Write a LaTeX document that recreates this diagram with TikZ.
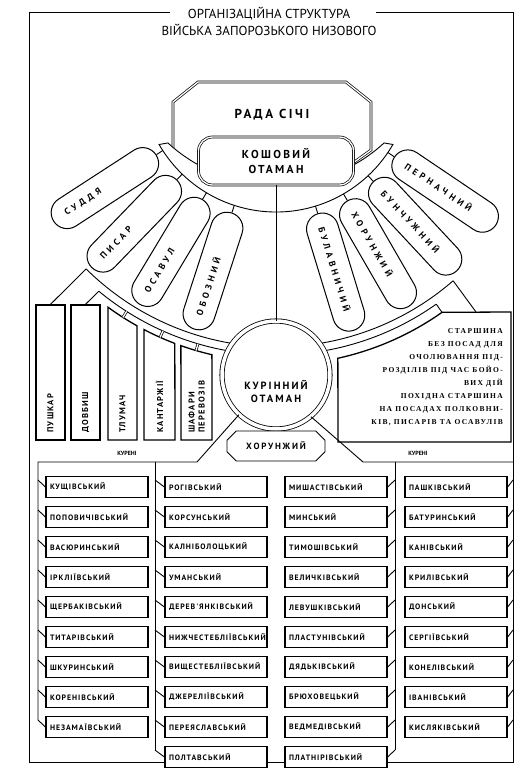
\documentclass[tikz,border=0pt]{standalone}
\usepackage{fontspec}
\setmainfont{PT Sans}
\newfontfamily\leaffont[LetterSpace=40]{PT Sans}
\newfontfamily\headfont[LetterSpace=20]{PT Sans}
\newfontfamily\kurfont[LetterSpace=12]{PT Sans}
\newfontfamily\vfont[LetterSpace=15]{PT Sans}
\newfontfamily\notefont[LetterSpace=18]{Liberation Serif}
\usetikzlibrary{calc, shapes.misc}

\tikzset{
  dbl/.style={draw, double, double distance=1.3pt, line width=0.7pt},
  boxline/.style={draw, line width=1.3pt},
  band/.style={line width=0.9pt},
  leaf/.style={draw, fill=white, line width=1pt, rounded corners=16pt,
    minimum height=32pt, text width=94pt, inner xsep=14pt, inner ysep=0pt,
    align=left, font=\leaffont\bfseries\fontsize{9}{10}\selectfont},
  kurin/.style={boxline, fill=white, minimum height=21pt, text width=94pt,
    inner xsep=4pt, inner ysep=0pt, align=left,
    font=\kurfont\bfseries\fontsize{7.8}{8.5}\selectfont},
  postbox/.style={boxline, fill=white, minimum width=29pt, minimum height=135pt,
    inner sep=0pt},
  vlabel/.style={rotate=90, anchor=west, inner sep=0pt, align=left,
    font=\vfont\bfseries\fontsize{8.5}{10}\selectfont},
}

\begin{document}
\begin{tikzpicture}[x=1pt, y=-1pt]
\useasboundingbox (0,0) rectangle (527,783);

% frame and title
\draw[line width=0.8pt] (170,12) -- (29,12) -- (29,762) -- (513,762) -- (513,12) -- (376,12);
\node[font=\fontsize{13}{14}\selectfont] (title1) at (269,14) {ОРГАНІЗАЦІЙНА СТРУКТУРА};
\node[font=\fontsize{13}{14}\selectfont] (title2) at (269,30) {ВІЙСЬКА ЗАПОРОЗЬКОГО НИЗОВОГО};

% rada sichi
\coordinate (C) at (276,77);
\coordinate (C2) at (276,25);
\draw[dbl, fill=white] (198,82) -- (346,82) -- (371,102) -- (371,150) -- (346,168)
  -- (198,168) -- (173,150) -- (173,102) -- cycle;
\node[font=\headfont\bfseries\fontsize{13}{14}\selectfont] (rada) at (272,115) {РАДА СІЧІ};

% upper band
\draw[band, fill=white] ($(C)+(210:135pt)$) arc[start angle=210, end angle=330, radius=135pt]
  -- ($(C2)+(312.5:160pt)$) arc[start angle=312.5, end angle=227.5, radius=160pt] -- cycle;

\node[dbl, fill=white, rounded corners=14pt, minimum width=155pt, minimum height=48pt,
  align=center, font=\headfont\bfseries\fontsize{11.5}{15}\selectfont] (koshovyi) at (276,161) {КОШОВИЙ\\ОТАМАН};

% lower band
\draw[band] ($(C)+(225.3:270pt)$) coordinate (peakL) arc[start angle=225.3, end angle=262, radius=270pt];
\draw[band] ($(C)+(230.4:278pt)$) coordinate (cornerL) arc[start angle=230.4, end angle=262, radius=278pt];
\draw[band] ($(C)+(278:270pt)$) arc[start angle=278, end angle=311, radius=270pt] coordinate (peakR);
\draw[band] ($(C)+(278:278pt)$) arc[start angle=278, end angle=305.2, radius=278pt] coordinate (cornerR);

% leaves
\node[leaf, rotate=33] (suddia) at ($(C)+(213:204pt)$) {СУДДЯ};
\node[leaf, rotate=46] (pysar) at ($(C)+(226:204pt)$) {ПИСАР};
\node[leaf, rotate=59] (osavul) at ($(C)+(239:204pt)$) {ОСАВУЛ};
\node[leaf, rotate=72] (oboznyi) at ($(C)+(252:204pt)$) {ОБОЗНИЙ};
\node[leaf, rotate=-73] (bulavnychyi) at ($(C)+(287:204pt)$) {БУЛАВНИЧИЙ};
\node[leaf, rotate=-60] (khorunzhyi) at ($(C)+(300:204pt)$) {ХОРУНЖИЙ};
\node[leaf, rotate=-47] (bunchuzhnyi) at ($(C)+(313:204pt)$) {БУНЧУЖНИЙ};
\node[leaf, rotate=-34] (pernachnyi) at ($(C)+(326:204pt)$) {ПЕРНАЧНИЙ};
\foreach \a/\n in {213/suddia, 226/pysar, 239/osavul, 252/oboznyi} {
  \coordinate (u-\n) at ($(C)+(\a:135pt)$);
  \draw[band] (u-\n) -- (\n.east);
}
\foreach \a/\n in {287/bulavnychyi, 300/khorunzhyi, 313/bunchuzhnyi, 326/pernachnyi} {
  \coordinate (u-\n) at ($(C)+(\a:135pt)$);
  \draw[band] (u-\n) -- (\n.west);
}

% service boxes
\node[postbox] (pushkar-box) at (50.5,372.5) {};
\node[postbox] (dovbysh-box) at (85.5,372.5) {};
\draw[boxline, fill=white] (108,440) -- ($(C)+(233.9:285pt)$) arc[start angle=233.9, end angle=240.8, radius=285pt] -- (137,440) -- cycle;
\draw[boxline, fill=white] (144,440) -- ($(C)+(242.4:285pt)$) arc[start angle=242.4, end angle=249.2, radius=285pt] -- (175,440) -- cycle;
\draw[boxline, fill=white] (181,440) -- ($(C)+(250.5:285pt)$) arc[start angle=250.5, end angle=257, radius=285pt] -- (212,440) -- cycle;
\draw[band] (peakL) -- (pushkar-box.north);
\draw[band] (cornerL) -- (dovbysh-box.north);
\foreach \a in {237.5, 246, 253.7}
  \draw[dbl] ($(C)+(\a:278pt)$) -- ($(C)+(\a:285pt)$);
\node[vlabel] (pushkar) at (50.5,433) {ПУШКАР};
\node[vlabel] (dovbysh) at (85.5,433) {ДОВБИШ};
\node[vlabel] (tlumach) at (122.5,433) {ТЛУМАЧ};
\node[vlabel] (kantarzhii) at (159.5,433) {КАНТАРЖІЇ};
\node[vlabel] (shafary) at (196.5,433) {ШАФАРИ\\ПЕРЕВОЗІВ};

% starshyna
\draw[boxline, fill=white] (338,442) -- ($(C)+(282.4:288pt)$) arc[start angle=282.4, end angle=305.2, radius=288pt]
  coordinate (K) -- (511,312) -- (511,442) -- cycle;
\draw[band] (cornerR) -- (K);
\coordinate (top-starshyna) at (476,312);
\draw[band] (peakR) -- (top-starshyna);
\node[anchor=north east, align=right, inner sep=0pt,
  font=\notefont\bfseries\fontsize{7.5}{13.1}\selectfont] (note) at (503,328)
  {СТАРШИНА\\БЕЗ ПОСАД ДЛЯ\\ОЧОЛЮВАННЯ ПІД-\\РОЗДІЛІВ ПІД ЧАС БОЙО-\\ВИХ ДІЙ\\
   ПОХІДНА СТАРШИНА\\НА ПОСАДАХ ПОЛКОВНИ-\\КІВ, ПИСАРІВ ТА ОСАВУЛІВ};

% kurin otaman
\node[circle, draw, fill=white, double, double distance=3.5pt, line width=0.8pt,
  minimum size=108pt, inner sep=0pt] (kurotaman) at (276,375) {};
\node[align=center, font=\headfont\bfseries\fontsize{10.5}{13}\selectfont] (kurotaman-t) at (276,391) {КУРІННИЙ\\ОТАМАН};
\draw[band] (koshovyi) -- (kurotaman);
\draw[band] (kurotaman.227) -- (197,462) -- (38,462) -- (38,720);
\draw[band] (155,462) -- (155,750);
\draw[band] (kurotaman.310) -- (363,462) -- (513,462);
\draw[band] (395,462) -- (395,750);
\node[draw, fill=white, chamfered rectangle, chamfered rectangle xsep=6pt, line width=0.9pt,
  minimum width=98pt, minimum height=30pt,
  font=\headfont\bfseries\fontsize{9}{10}\selectfont] (khorunzhyi-k) at (276,446) {ХОРУНЖИЙ};
\node[font=\bfseries\fontsize{6}{7}\selectfont] (kureni-l) at (127,453) {КУРЕНІ};
\node[font=\bfseries\fontsize{6}{7}\selectfont] (kureni-r) at (418,453) {КУРЕНІ};

% kurins
\foreach \nm [count=\i from 0] in {КУЩІВСЬКИЙ, ПОПОВИЧІВСЬКИЙ, ВАСЮРИНСЬКИЙ, ІРКЛІЇВСЬКИЙ,
    ЩЕРБАКІВСЬКИЙ, ТИТАРІВСЬКИЙ, ШКУРИНСЬКИЙ, КОРЕНІВСЬКИЙ, НЕЗАМАЇВСЬКИЙ} {
  \node[kurin] (ka\i) at (97,487+30*\i) {\nm};
  \coordinate (ba\i) at (38,480+30*\i);
  \draw[band] (ba\i) -- (ka\i.west);
}
\foreach \nm [count=\i from 0] in {РОГІВСЬКИЙ, КОРСУНСЬКИЙ, КАЛНІБОЛОЦЬКИЙ, УМАНСЬКИЙ,
    ДЕРЕВ'ЯНКІВСЬКИЙ, НИЖЧЕСТЕБЛІЇВСЬКИЙ, ВИЩЕСТЕБЛІЇВСЬКИЙ, ДЖЕРЕЛІЇВСЬКИЙ,
    ПЕРЕЯСЛАВСЬКИЙ, ПОЛТАВСЬКИЙ} {
  \node[kurin] (kb\i) at (216,487+30*\i) {\nm};
  \coordinate (bb\i) at (155,480+30*\i);
  \draw[band] (bb\i) -- (kb\i.west);
}
\foreach \nm [count=\i from 0] in {МИШАСТІВСЬКИЙ, МИНСЬКИЙ, ТИМОШІВСЬКИЙ, ВЕЛИЧКІВСЬКИЙ,
    ЛЕВУШКІВСЬКИЙ, ПЛАСТУНІВСЬКИЙ, ДЯДЬКІВСЬКИЙ, БРЮХОВЕЦЬКИЙ, ВЕДМЕДІВСЬКИЙ,
    ПЛАТНІРІВСЬКИЙ} {
  \node[kurin] (kc\i) at (336,487+30*\i) {\nm};
  \coordinate (bc\i) at (395,480+30*\i);
  \draw[band] (kc\i.east) -- (bc\i);
}
\foreach \nm [count=\i from 0] in {ПАШКІВСЬКИЙ, БАТУРИНСЬКИЙ, КАНІВСЬКИЙ, КРИЛІВСЬКИЙ,
    ДОНСЬКИЙ, СЕРГІЇВСЬКИЙ, КОНЕЛІВСЬКИЙ, ІВАНІВСЬКИЙ, КИСЛЯКІВСЬКИЙ} {
  \node[kurin] (kd\i) at (456,487+30*\i) {\nm};
  \coordinate (bd\i) at (513,480+30*\i);
  \draw[band] (kd\i.east) -- (bd\i);
}
\end{tikzpicture}
\end{document}
